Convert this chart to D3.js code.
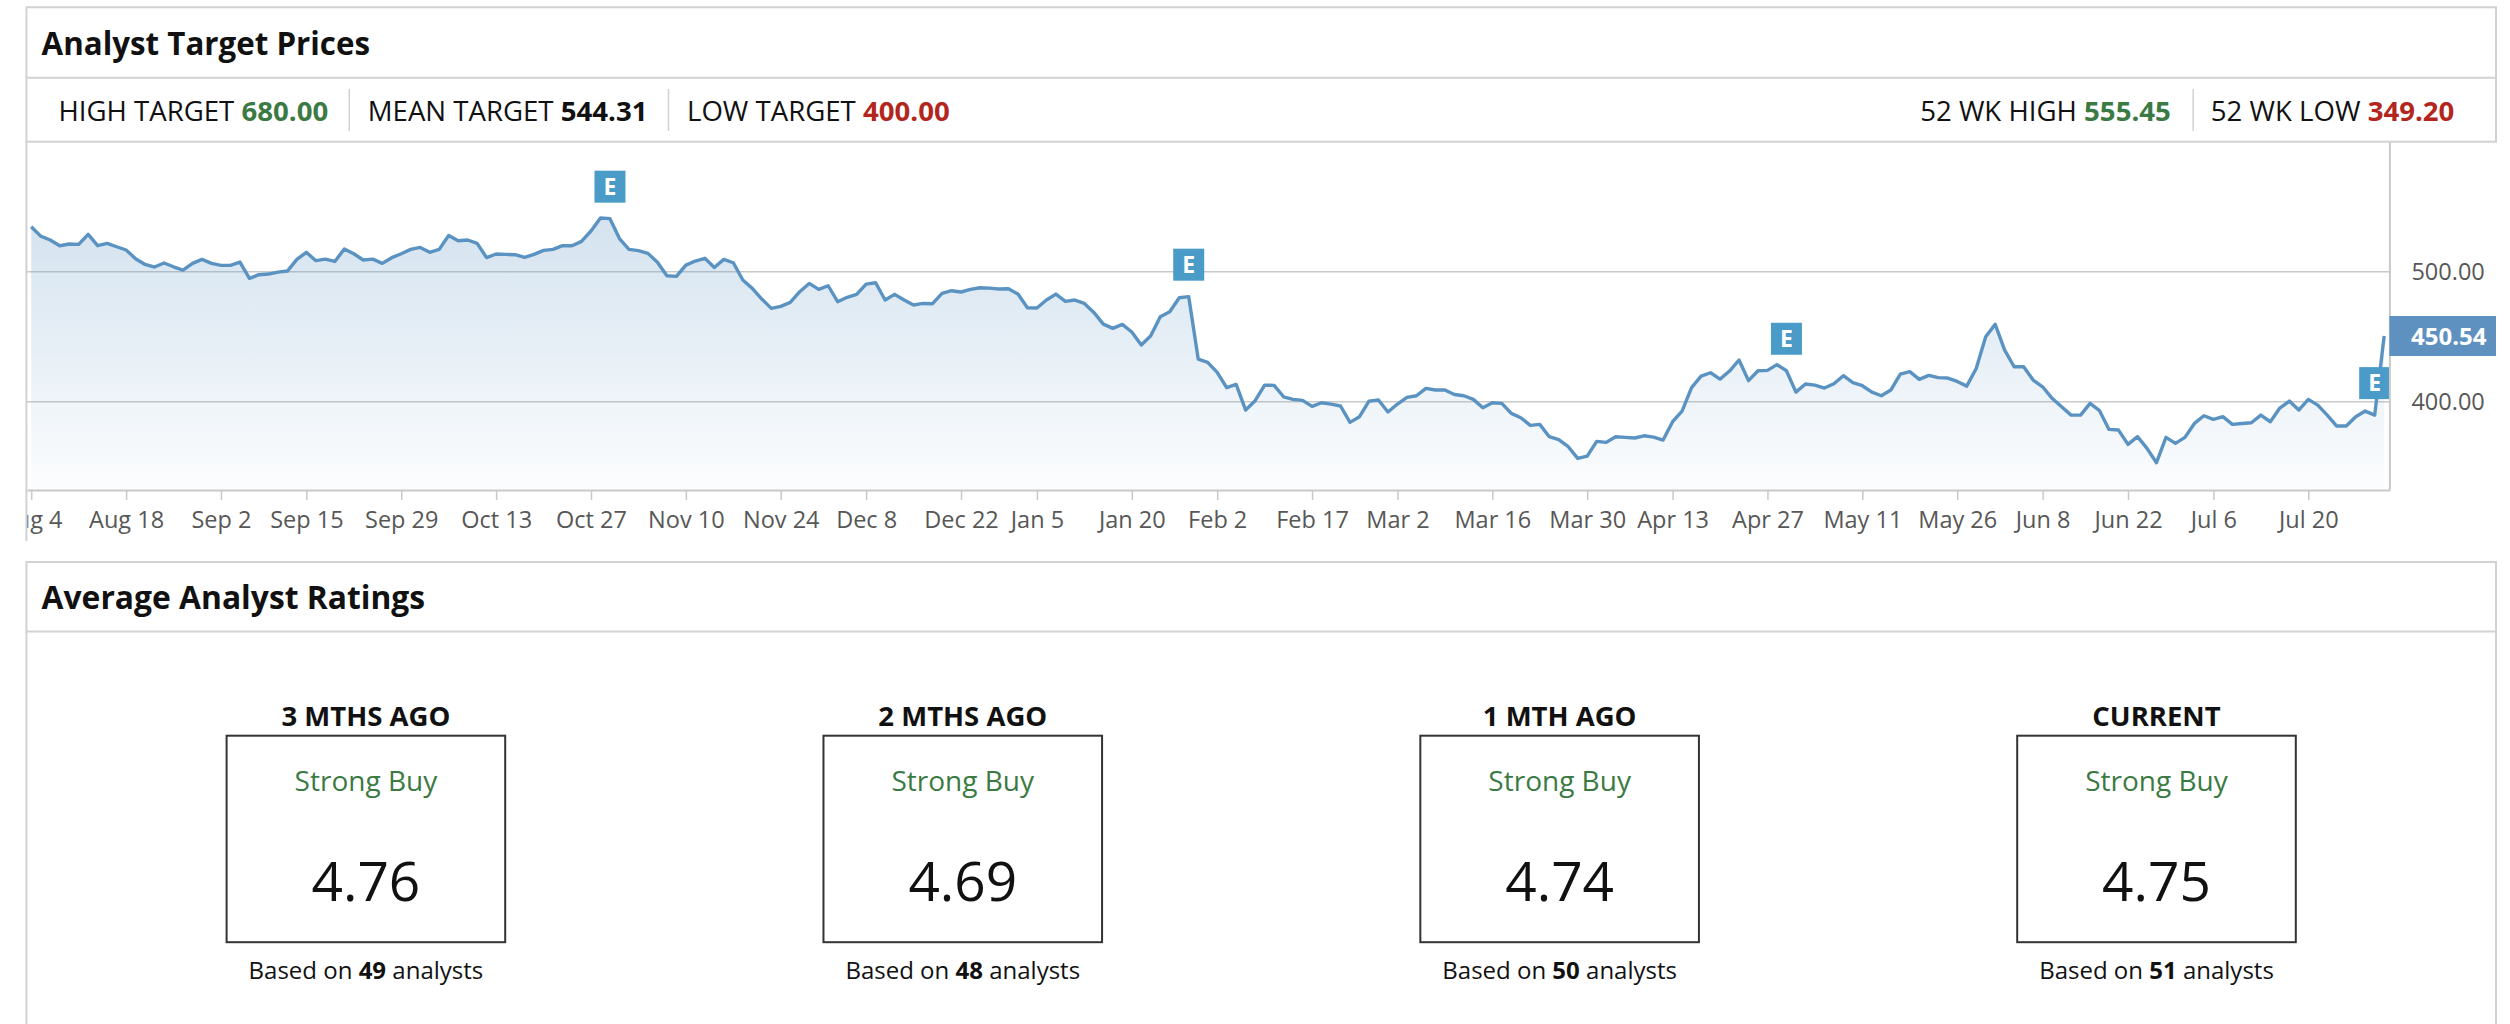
<!DOCTYPE html>
<html>
<head>
<meta charset="utf-8">
<script src="https://cdn.jsdelivr.net/npm/d3@7"></script>
<style>
    body { margin: 0; background: #fff; }
    svg { display: block; font-family: 'Open Sans', sans-serif; }
</style>
</head>
<body>
<div id="chart"></div>
<script>
// trading calendar
const startDate = '2025-08-04';
const endDate = '2026-07-30';
const holidays = ['2025-09-01', '2025-11-27', '2025-12-25', '2026-01-01', '2026-01-19',
    '2026-02-16', '2026-04-03', '2026-05-25', '2026-06-19', '2026-07-03'];

// daily closes, one per trading day
const closes = [
    534.6, 527.4, 524.4, 520.0, 521.3, 521.0, 528.7, 520.0, 521.8, 519.2,
    516.7, 510.0, 505.6, 503.6, 506.7, 503.8, 501.3, 506.4, 509.5, 506.4,
    504.9, 504.9, 507.4, 494.9, 497.7, 498.2, 499.7, 500.5, 509.5, 514.9,
    508.5, 509.7, 507.9, 517.4, 513.8, 509.0, 509.7, 506.4, 510.8, 513.8,
    517.2, 518.7, 514.9, 517.2, 527.9, 523.8, 524.4, 521.8, 510.8, 513.6,
    513.3, 513.1, 511.0, 513.3, 516.4, 517.2, 520.0, 520.0, 523.3, 531.3,
    541.3, 540.8, 525.5, 517.2, 516.2, 514.1, 507.2, 496.9, 496.4, 505.1,
    508.2, 510.3, 503.3, 509.5, 506.9, 493.6, 487.2, 479.0, 471.8, 473.3,
    476.4, 484.6, 491.0, 486.4, 489.2, 476.9, 480.3, 482.6, 490.5, 491.5,
    478.2, 482.6, 478.2, 474.4, 475.6, 475.4, 483.3, 485.4, 484.4, 486.4,
    487.7, 487.4, 486.7, 486.9, 482.8, 472.3, 472.1, 478.2, 482.8, 477.2,
    478.2, 475.6, 468.7, 459.7, 456.4, 459.5, 453.6, 443.6, 450.8, 465.4,
    469.2, 480.0, 480.8, 432.8, 430.3, 422.6, 410.8, 413.3, 393.6, 400.8,
    412.8, 412.6, 403.8, 401.8, 401.0, 396.4, 399.2, 398.2, 396.7, 384.1,
    388.5, 400.5, 401.3, 392.1, 398.2, 403.3, 404.6, 410.3, 409.0, 409.0,
    405.6, 404.6, 401.8, 395.4, 399.2, 398.7, 391.0, 387.7, 381.8, 382.6,
    373.1, 370.8, 365.4, 356.4, 358.2, 369.5, 368.7, 373.1, 372.6, 372.1,
    373.8, 372.8, 370.5, 384.6, 392.8, 410.8, 419.7, 422.3, 417.4, 423.6,
    432.1, 416.2, 423.8, 424.1, 428.5, 423.8, 407.4, 413.6, 412.8, 410.5,
    413.8, 420.0, 414.6, 412.3, 407.4, 404.6, 409.0, 421.3, 423.1, 417.2,
    420.3, 418.5, 418.2, 415.6, 412.0, 425.6, 450.0, 459.5, 439.7, 426.9,
    426.9, 416.7, 411.5, 402.6, 396.2, 389.7, 389.7, 398.7, 393.1, 378.7,
    378.2, 367.2, 373.1, 364.1, 353.1, 372.6, 368.0, 372.6, 383.3, 389.2,
    386.4, 388.5, 382.6, 383.3, 383.8, 389.7, 384.6, 395.1, 400.5, 393.6,
    401.8, 397.4, 389.7, 381.3, 381.3, 388.5, 392.8, 389.7, 450.54
];

const earningsDates = ['2025-10-29', '2026-01-28', '2026-04-29', '2026-07-29'];

const tickDates = ['2025-08-04', '2025-08-18', '2025-09-02', '2025-09-15', '2025-09-29',
    '2025-10-13', '2025-10-27', '2025-11-10', '2025-11-24', '2025-12-08', '2025-12-22',
    '2026-01-05', '2026-01-20', '2026-02-02', '2026-02-17', '2026-03-02', '2026-03-16',
    '2026-03-30', '2026-04-13', '2026-04-27', '2026-05-11', '2026-05-26', '2026-06-08',
    '2026-06-22', '2026-07-06', '2026-07-20'];
const tickLabels = ['Aug 4', 'Aug 18', 'Sep 2', 'Sep 15', 'Sep 29', 'Oct 13', 'Oct 27',
    'Nov 10', 'Nov 24', 'Dec 8', 'Dec 22', 'Jan 5', 'Jan 20', 'Feb 2', 'Feb 17', 'Mar 2',
    'Mar 16', 'Mar 30', 'Apr 13', 'Apr 27', 'May 11', 'May 26', 'Jun 8', 'Jun 22',
    'Jul 6', 'Jul 20'];
const yTicks = [400, 500];

// header stats
const statLabels = ['HIGH TARGET', 'MEAN TARGET', 'LOW TARGET'];
const statValues = [680.00, 544.31, 400.00];
const rangeLabels = ['52 WK HIGH', '52 WK LOW'];
const rangeValues = [555.45, 349.20];

// ratings
const ratingPeriods = ['3 MTHS AGO', '2 MTHS AGO', '1 MTH AGO', 'CURRENT'];
const ratingTexts = ['Strong Buy', 'Strong Buy', 'Strong Buy', 'Strong Buy'];
const ratingScores = [4.76, 4.69, 4.74, 4.75];
const analystCounts = [49, 48, 50, 51];

const colors = {
    border: '#d2d2d2',
    grid: '#c9c9c9',
    axisText: '#575757',
    line: '#5a93c2',
    flag: '#4b9bc8',
    priceBox: '#5e91c0',
    green: '#3b7a43',
    red: '#b3261e'
};

function draw() {
    const W = 2510, H = 1024;
    const panelLeft = 26.4, panelRight = 2496;
    const plot = { left: 26, right: 2389.4, top: 141.7, bottom: 490 };

    const fmtKey = d3.timeFormat('%Y-%m-%d');
    const parse = d3.timeParse('%Y-%m-%d');
    const days = d3.timeDay.range(parse(startDate), d3.timeDay.offset(parse(endDate), 1))
        .filter(d => d.getDay() % 6 !== 0 && !holidays.includes(fmtKey(d)));
    const dayKeys = days.map(fmtKey);
    const data = closes.map((v, i) => ({ i, v }));

    const svg = d3.select('#chart').append('svg')
        .attr('width', W)
        .attr('height', H);

    // --- top panel frame ---
    svg.append('rect')
        .attr('x', panelLeft).attr('y', 7.3)
        .attr('width', panelRight - panelLeft).attr('height', plot.top - 7.3)
        .attr('fill', 'none').attr('stroke', colors.border).attr('stroke-width', 2);
    svg.append('line')
        .attr('x1', panelLeft).attr('x2', panelRight)
        .attr('y1', 77.7).attr('y2', 77.7)
        .attr('stroke', colors.border).attr('stroke-width', 2);
    svg.append('line')
        .attr('x1', panelLeft).attr('x2', panelLeft)
        .attr('y1', plot.top).attr('y2', 541)
        .attr('stroke', colors.border).attr('stroke-width', 2);

    svg.append('text')
        .attr('x', 41.6).attr('y', 54.8)
        .attr('font-size', 31.3).attr('font-weight', 700).attr('fill', '#111')
        .text('Analyst Target Prices');

    // stats row, left side
    const statColors = [colors.green, '#111', colors.red];
    let sx = 58.4;
    statLabels.forEach((label, i) => {
        const t = svg.append('text')
            .attr('x', sx).attr('y', 120.9)
            .attr('font-size', 27.6).attr('fill', '#111');
        t.append('tspan').text(label + ' ');
        t.append('tspan').attr('font-weight', 700).attr('fill', statColors[i])
            .text(d3.format('.2f')(statValues[i]));
        const end = sx + t.node().getComputedTextLength();
        if (i < statLabels.length - 1) {
            svg.append('line')
                .attr('x1', end + 21).attr('x2', end + 21)
                .attr('y1', 89).attr('y2', 131)
                .attr('stroke', colors.border).attr('stroke-width', 1.5);
            sx = end + 39.5;
        }
    });

    // stats row, right side (laid out right to left)
    const rangeColors = [colors.green, colors.red];
    let ex = 2454.4;
    for (let i = rangeLabels.length - 1; i >= 0; i--) {
        const t = svg.append('text')
            .attr('x', ex).attr('y', 120.9)
            .attr('text-anchor', 'end')
            .attr('font-size', 27.6).attr('fill', '#111');
        t.append('tspan').text(rangeLabels[i] + ' ');
        t.append('tspan').attr('font-weight', 700).attr('fill', rangeColors[i])
            .text(d3.format('.2f')(rangeValues[i]));
        const start = ex - t.node().getComputedTextLength();
        if (i > 0) {
            svg.append('line')
                .attr('x1', start - 17.7).attr('x2', start - 17.7)
                .attr('y1', 89).attr('y2', 131)
                .attr('stroke', colors.border).attr('stroke-width', 1.5);
            ex = start - 40;
        }
    }

    // --- price chart ---
    const x = d3.scaleLinear()
        .domain([-0.55, closes.length - 1 + 0.55])
        .range([plot.left, plot.right]);
    const y = d3.scaleLinear()
        .domain([332.1, 600])
        .range([plot.bottom, plot.top]);

    const defs = svg.append('defs');
    defs.append('clipPath').attr('id', 'plot-clip')
        .append('rect')
        .attr('x', plot.left).attr('y', plot.top)
        .attr('width', plot.right - plot.left).attr('height', plot.bottom - plot.top);
    defs.append('clipPath').attr('id', 'xlab-clip')
        .append('rect')
        .attr('x', panelLeft + 1).attr('y', -20)
        .attr('width', W).attr('height', 80);

    const grad = defs.append('linearGradient')
        .attr('id', 'area-fill')
        .attr('gradientUnits', 'userSpaceOnUse')
        .attr('x1', 0).attr('x2', 0)
        .attr('y1', y(d3.max(closes))).attr('y2', plot.bottom);
    grad.append('stop').attr('offset', 0).attr('stop-color', colors.line).attr('stop-opacity', 0.26);
    grad.append('stop').attr('offset', 1).attr('stop-color', colors.line).attr('stop-opacity', 0.02);

    // grid lines
    svg.append('g')
        .selectAll('line')
        .data(yTicks)
        .enter()
        .append('line')
        .attr('x1', plot.left).attr('x2', plot.right)
        .attr('y1', d => y(d)).attr('y2', d => y(d))
        .attr('stroke', colors.grid).attr('stroke-width', 1.6);

    const g = svg.append('g').attr('clip-path', 'url(#plot-clip)');

    g.append('path')
        .datum(data)
        .attr('fill', 'url(#area-fill)')
        .attr('d', d3.area()
            .x(d => x(d.i))
            .y0(plot.bottom)
            .y1(d => y(d.v)));

    g.append('path')
        .datum(data)
        .attr('fill', 'none')
        .attr('stroke', colors.line)
        .attr('stroke-width', 3.4)
        .attr('stroke-linejoin', 'round')
        .attr('d', d3.line()
            .x(d => x(d.i))
            .y(d => y(d.v)));

    // earnings flags
    const flags = g.selectAll('g.flag')
        .data(earningsDates.map(k => dayKeys.indexOf(k)))
        .enter()
        .append('g')
        .attr('class', 'flag')
        .attr('transform', i => `translate(${x(i)}, ${y(closes[i]) - 16})`);
    flags.append('rect')
        .attr('x', -15.5).attr('y', -32)
        .attr('width', 31).attr('height', 32)
        .attr('fill', colors.flag);
    flags.append('text')
        .attr('y', -16).attr('dy', '0.36em')
        .attr('text-anchor', 'middle')
        .attr('font-size', 23).attr('font-weight', 700).attr('fill', '#fff')
        .text('E');

    // x axis
    const tickIdx = tickDates.map(k => dayKeys.indexOf(k));
    const xAxisG = svg.append('g')
        .attr('transform', `translate(0, ${plot.bottom})`)
        .call(d3.axisBottom(x)
            .tickValues(tickIdx)
            .tickFormat((d, i) => tickLabels[i])
            .tickSize(10)
            .tickSizeOuter(0)
            .tickPadding(11));
    xAxisG.attr('clip-path', 'url(#xlab-clip)');
    xAxisG.select('.domain').attr('stroke', colors.grid).attr('stroke-width', 2);
    xAxisG.selectAll('.tick line').attr('stroke', colors.grid).attr('stroke-width', 1.5);
    xAxisG.selectAll('.tick text')
        .attr('font-family', "'Open Sans', sans-serif")
        .attr('font-size', 23.5)
        .attr('fill', colors.axisText);

    // y axis on the right
    const yAxisG = svg.append('g')
        .attr('transform', `translate(${plot.right}, 0)`)
        .call(d3.axisRight(y)
            .tickValues(yTicks)
            .tickFormat(d3.format('.2f'))
            .tickSize(0)
            .tickSizeOuter(0)
            .tickPadding(22));
    yAxisG.select('.domain').attr('stroke', colors.grid).attr('stroke-width', 2);
    yAxisG.selectAll('.tick text')
        .attr('font-family', "'Open Sans', sans-serif")
        .attr('font-size', 23.5)
        .attr('fill', colors.axisText);

    // last price tag
    const last = closes[closes.length - 1];
    svg.append('rect')
        .attr('x', plot.right).attr('y', y(last) - 20)
        .attr('width', panelRight - plot.right).attr('height', 40)
        .attr('fill', colors.priceBox);
    svg.append('text')
        .attr('x', plot.right + 21.6).attr('y', y(last)).attr('dy', '0.36em')
        .attr('font-size', 24).attr('font-weight', 700).attr('fill', '#fff')
        .text(d3.format('.2f')(last));

    // --- ratings panel ---
    svg.append('rect')
        .attr('x', panelLeft).attr('y', 562)
        .attr('width', panelRight - panelLeft).attr('height', 480)
        .attr('fill', 'none').attr('stroke', colors.border).attr('stroke-width', 2);
    svg.append('line')
        .attr('x1', panelLeft).attr('x2', panelRight)
        .attr('y1', 631.6).attr('y2', 631.6)
        .attr('stroke', colors.border).attr('stroke-width', 2);
    svg.append('text')
        .attr('x', 41.6).attr('y', 608.8)
        .attr('font-size', 31.8).attr('font-weight', 700).attr('fill', '#111')
        .text('Average Analyst Ratings');

    const cx = d3.scalePoint()
        .domain(ratingPeriods)
        .range([365.9, 2156.5]);

    const cards = svg.selectAll('g.card')
        .data(ratingPeriods)
        .enter()
        .append('g')
        .attr('class', 'card')
        .attr('transform', d => `translate(${cx(d)}, 0)`);

    cards.append('text')
        .attr('y', 725.7).attr('text-anchor', 'middle')
        .attr('font-size', 27.5).attr('font-weight', 700).attr('fill', '#111')
        .text(d => d);
    cards.append('rect')
        .attr('x', -139.3).attr('y', 735.7)
        .attr('width', 278.6).attr('height', 206.5)
        .attr('fill', 'none').attr('stroke', '#333').attr('stroke-width', 2);
    cards.append('text')
        .attr('y', 791.2).attr('text-anchor', 'middle')
        .attr('font-size', 28).attr('fill', colors.green)
        .text((d, i) => ratingTexts[i]);
    cards.append('text')
        .attr('y', 900.5).attr('text-anchor', 'middle')
        .attr('font-size', 55).attr('fill', '#111')
        .text((d, i) => d3.format('.2f')(ratingScores[i]));
    const based = cards.append('text')
        .attr('y', 978.6).attr('text-anchor', 'middle')
        .attr('font-size', 24).attr('fill', '#111');
    based.append('tspan').text('Based on ');
    based.append('tspan').attr('font-weight', 700).text((d, i) => analystCounts[i]);
    based.append('tspan').text(' analysts');
}

draw();
</script>
</body>
</html>
